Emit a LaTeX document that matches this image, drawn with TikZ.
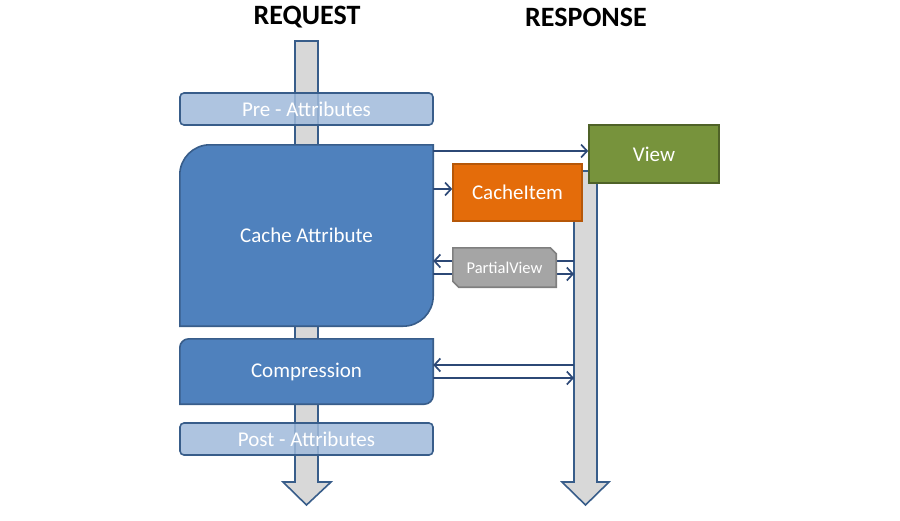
\documentclass[tikz,border=0pt]{standalone}
\usepackage{fontspec}
\setmainfont{Carlito}
\usetikzlibrary{arrows.meta}
\definecolor{boxblue}{RGB}{79,129,189}
\definecolor{boxline}{RGB}{56,93,138}
\definecolor{lightblue}{RGB}{160,186,219}
\definecolor{flowgray}{RGB}{216,216,216}
\definecolor{viewgreen}{RGB}{119,147,60}
\definecolor{viewline}{RGB}{79,98,40}
\definecolor{itemorange}{RGB}{228,108,10}
\definecolor{itemline}{RGB}{182,87,8}
\definecolor{partgray}{RGB}{165,165,165}
\definecolor{partline}{RGB}{127,127,127}
\definecolor{linkblue}{RGB}{44,72,118}
\begin{document}
\begin{tikzpicture}[x=1pt,y=-1pt,
  every node/.style={inner sep=0pt,text=white,font=\fontsize{21}{25}\selectfont},
  title/.style={text=black,font=\fontsize{28}{32}\selectfont\bfseries},
  flow/.style={draw=boxline,line width=1.6pt,fill=flowgray},
  layer/.style={draw=boxline,line width=1.6pt,fill=lightblue,fill opacity=0.85,text opacity=1,
    rounded corners=4pt,minimum width=253pt,minimum height=32pt},
  shapebox/.style={draw=boxline,line width=1.6pt,fill=boxblue},
  frame/.style={minimum width=253pt},
  solid/.style={draw=#1,line width=1.6pt,minimum width=129pt,minimum height=57pt},
  link/.style={draw=linkblue,line width=1.7pt,-{Straight Barb[length=6pt,width=13pt]}}]
\useasboundingbox (0,0) rectangle (900,520);
\def\rr{30}
\def\cc{13.5}
% titles
\node[title] (req) at (307,17) {REQUEST};
\node[title] (resp) at (586,17) {RESPONSE};
% request and response flow
\draw[flow] (295,41) -- (318,41) -- (318,482) -- (331,482) -- (306.5,505)
  -- (283,482) -- (295,482) -- cycle;
\draw[flow] (574,171) -- (597,171) -- (597,482) -- (609,482) -- (585.5,505)
  -- (562,482) -- (574,482) -- cycle;
% request side
\node[layer] (pre) at (306.5,109) {Pre - Attributes};
\node[layer] (post) at (306.5,439) {Post - Attributes};
\node[frame,minimum height=181pt] (cache) at (306.5,235.5) {};
\draw[shapebox] ([yshift=-\rr pt]cache.north west)
  .. controls ([yshift=-\cc pt]cache.north west) and ([xshift=\cc pt]cache.north west) .. ([xshift=\rr pt]cache.north west)
  -- (cache.north east) -- ([yshift=\rr pt]cache.south east)
  .. controls ([yshift=\cc pt]cache.south east) and ([xshift=-\cc pt]cache.south east) .. ([xshift=-\rr pt]cache.south east)
  -- (cache.south west) -- cycle;
\node (cachetext) at (cache) {Cache Attribute};
\node[frame,minimum height=65pt] (comp) at (306.5,371.5) {};
\draw[shapebox] ([yshift=-9pt]comp.north west)
  .. controls ([yshift=-4pt]comp.north west) and ([xshift=4pt]comp.north west) .. ([xshift=9pt]comp.north west)
  -- (comp.north east) -- ([yshift=9pt]comp.south east)
  .. controls ([yshift=4pt]comp.south east) and ([xshift=-4pt]comp.south east) .. ([xshift=-9pt]comp.south east)
  -- (comp.south west) -- cycle;
\node (comptext) at (comp) {Compression};
% response side
\node[solid=viewline,fill=viewgreen,minimum width=130pt,minimum height=58pt] (view) at (654,154) {View};
\node[solid=itemline,fill=itemorange] (item) at (517.5,192.5) {CacheItem};
\coordinate (c1) at (433,151);
\coordinate (c2) at (433,189);
\coordinate (r1) at (574,261);
\coordinate (r2) at (574,274);
\coordinate (r3) at (574,365);
\coordinate (r4) at (574,378);
\draw[link] (c1) -- (c1 -| view.west);
\draw[link] (c2) -- (c2 -| item.west);
\draw[link] (r1) -- (r1 -| cache.east);
\draw[link] (r2 -| cache.east) -- (r2);
\draw[link] (r3) -- (r3 -| comp.east);
\draw[link] (r4 -| comp.east) -- (r4);
\node[minimum width=103pt,minimum height=39pt] (part) at (504.5,267.5) {};
\draw[draw=partline,line width=1.6pt,fill=partgray] (part.north west)
  -- ([xshift=-6pt]part.north east) -- ([yshift=-6pt]part.north east)
  -- (part.south east) -- ([xshift=6pt]part.south west)
  -- ([yshift=6pt]part.south west) -- cycle;
\node[font=\fontsize{16.5}{20}\selectfont] (parttext) at (part) {PartialView};
\end{tikzpicture}
\end{document}
